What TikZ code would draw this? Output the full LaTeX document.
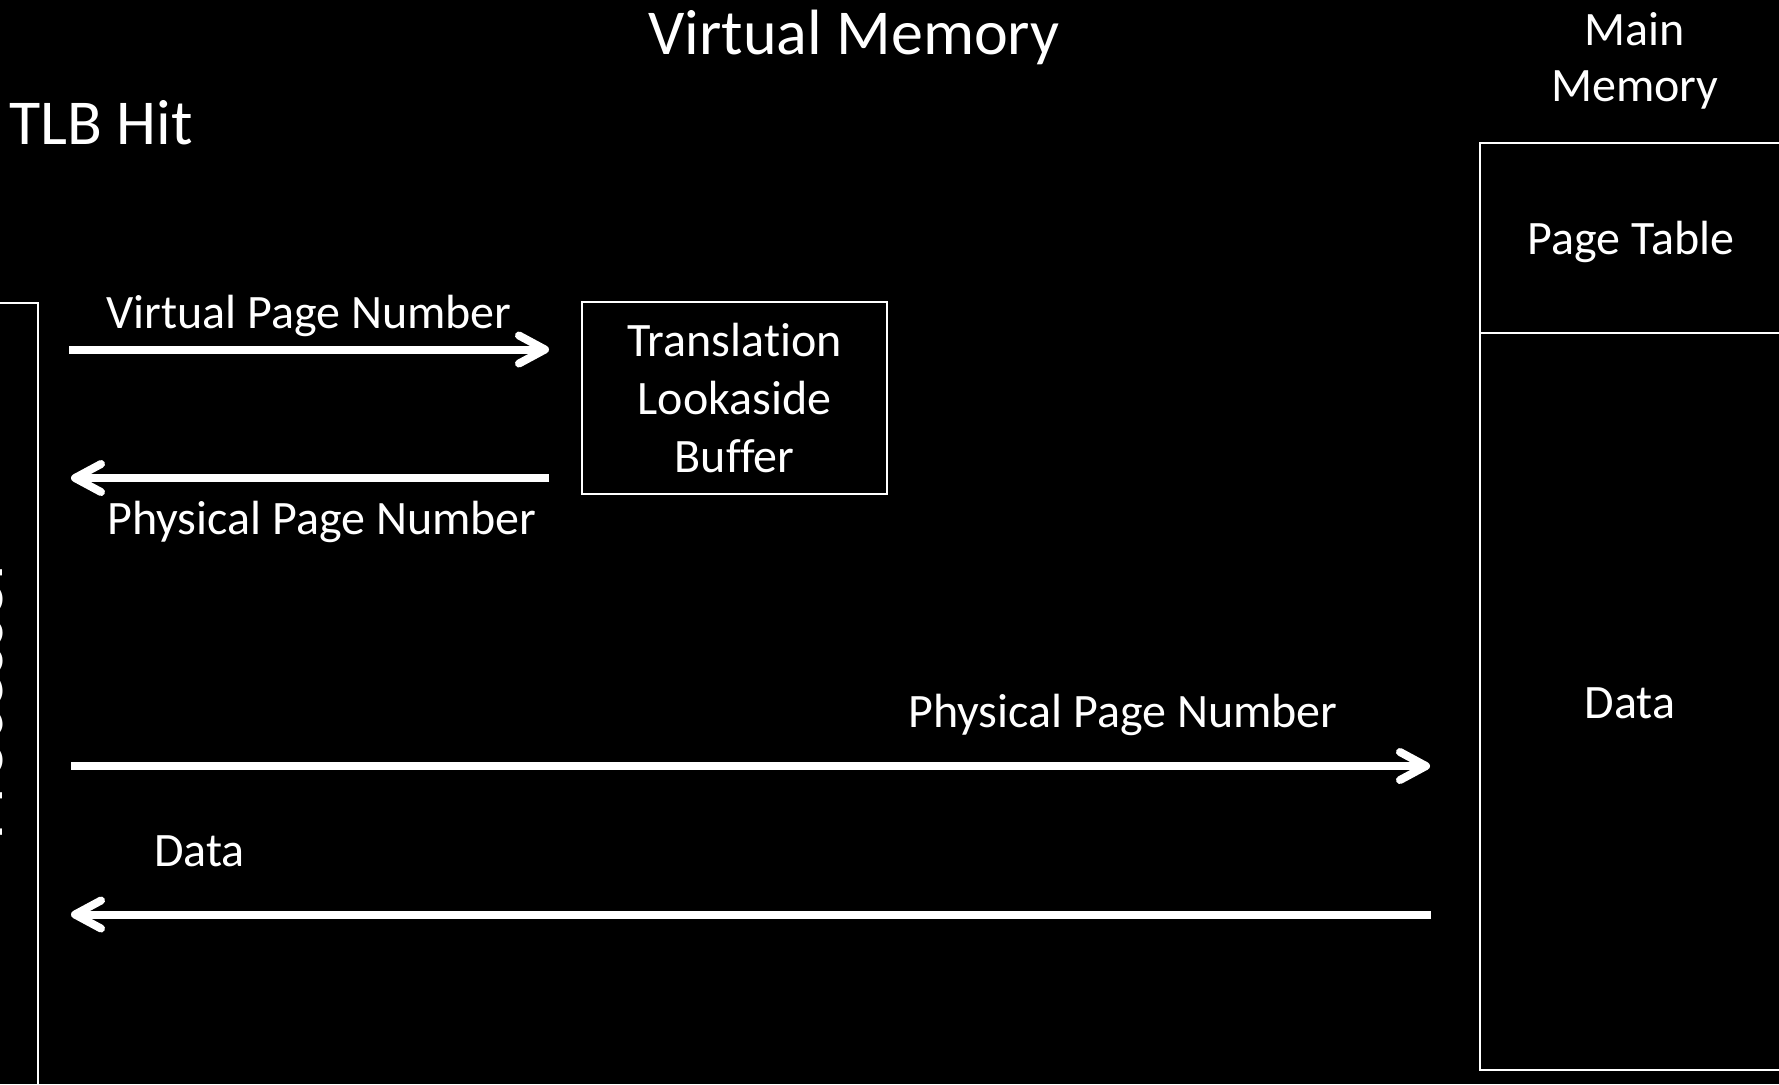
\documentclass[tikz,border=0pt]{standalone}
\usepackage{fontspec}
\setmainfont{Carlito}[Ligatures=NoCommon]
\usetikzlibrary{arrows.meta}
\begin{document}
\begin{tikzpicture}[x=0.5pt,y=-0.5pt,
  every node/.style={text=white},
  lbl/.style={font=\fontsize{24}{29}\selectfont, inner sep=0pt},
  ttl/.style={font=\fontsize{32}{38}\selectfont, inner sep=0pt},
  box/.style={draw=white, line width=1pt, inner sep=0pt},
  arr/.style={draw=white, line width=4pt, -{Straight Barb[length=13pt,width=14pt,line cap=round,line join=round]}},
]
\fill[black] (0,0) rectangle (1779,1084);
\useasboundingbox (0,0) rectangle (1779,1084);
\clip (0,0) rectangle (1779,1084);
% titles
\node[ttl, anchor=base] (title) at (854,54) {Virtual Memory};
\node[ttl, anchor=base west] (hit) at (9,144) {TLB Hit};
\node[lbl, anchor=base] (mmain) at (1635,45) {Main};
\node[lbl, anchor=base] (mmem) at (1635,101) {Memory};
% boxes
\node[box, anchor=north east, minimum width=150pt, minimum height=500pt] (proc) at (39,302) {};
\node[font=\fontsize{36}{40}\selectfont, rotate=90, anchor=base, inner sep=0pt] (proctxt) at (3,698) {Processor};
\node[box, minimum width=152.5pt, minimum height=96pt, align=center, font=\fontsize{24}{29}\selectfont] (tlb) at (734.5,398) {Translation\\Lookaside\\Buffer};
\node[box, anchor=north west, minimum width=200pt, minimum height=463.5pt] (mem) at (1479,142) {};
\draw[white, line width=1pt] (mem.west |- 0,333) -- (mem.east |- 0,333);
\node[lbl, anchor=base] (pt) at (1631,254) {Page Table};
\node[lbl, anchor=base] (mdata) at (1630,718) {Data};
% arrows
\draw[arr, shorten <=15pt, shorten >=16pt] (proc.east |- 0,349.5) -- (tlb.west |- 0,349.5);
\draw[arr, shorten <=16pt, shorten >=16pt] (tlb.west |- 0,478) -- (proc.east |- 0,478);
\draw[arr, shorten <=16pt, shorten >=24.5pt] (proc.east |- 0,766) -- (mem.west |- 0,766);
\draw[arr, shorten <=24pt, shorten >=16pt] (mem.west |- 0,914.5) -- (proc.east |- 0,914.5);
% labels
\node[lbl, anchor=base west] (vpn) at (106,328) {Virtual Page Number};
\node[lbl, anchor=base west] (ppn1) at (107,534) {Physical Page Number};
\node[lbl, anchor=base west] (ppn2) at (908,727) {Physical Page Number};
\node[lbl, anchor=base west] (dlbl) at (154,866) {Data};
\end{tikzpicture}
\end{document}
